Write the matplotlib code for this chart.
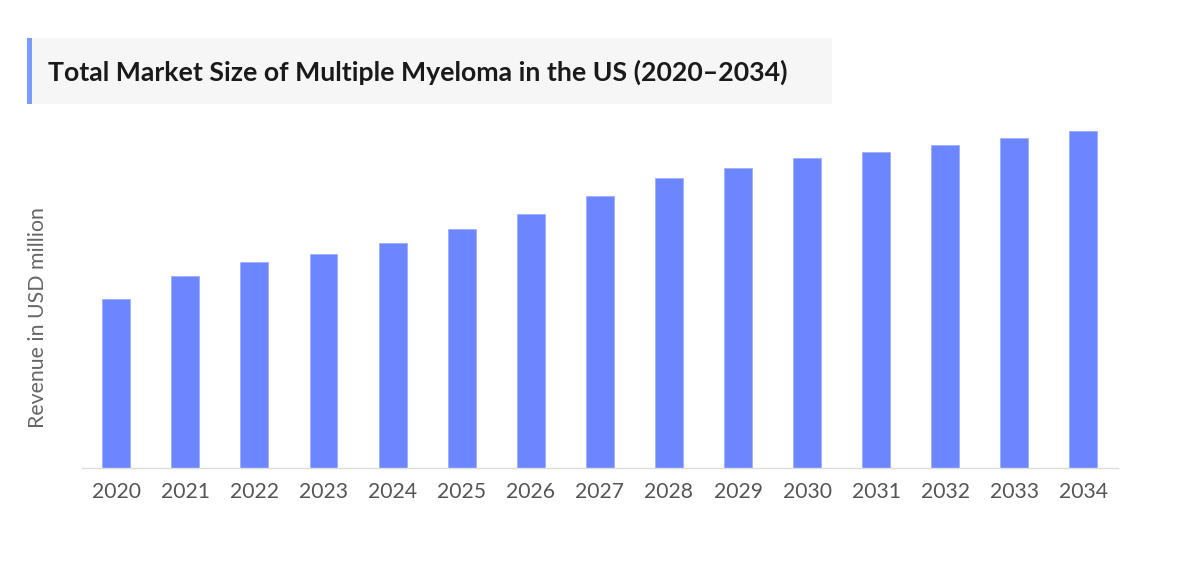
import matplotlib
matplotlib.use("Agg")
import matplotlib.pyplot as plt
from matplotlib.patches import Rectangle

years = ["2020", "2021", "2022", "2023", "2024", "2025", "2026", "2027",
         "2028", "2029", "2030", "2031", "2032", "2033", "2034"]
revenue = [169, 192, 206, 214, 225, 239, 254, 272, 290, 300, 310, 316, 323, 330, 337]

title = "Total Market Size of Multiple Myeloma in the US (2020\u20132034)"
ylabel = "Revenue in USD million"

W, H = 1201, 572
fig = plt.figure(figsize=(W / 100, H / 100), dpi=100)
fig.patch.set_facecolor("white")

# title box
fig.patches.append(Rectangle((27 / W, 1 - 104 / H), (832 - 27) / W, (104 - 38) / H,
                             transform=fig.transFigure, facecolor="#f6f6f6",
                             edgecolor="none", zorder=0))
fig.patches.append(Rectangle((27 / W, 1 - 104 / H), 5 / W, (104 - 38) / H,
                             transform=fig.transFigure, facecolor="#7b9bff",
                             edgecolor="none", zorder=1))
fig.text(48 / W, 1 - 72 / H, title, fontsize=19.2, fontweight="bold",
         family=["Lato", "DejaVu Sans"], color="#1a1a1a", va="center", ha="left")

ax = fig.add_axes([81.7 / W, 1 - 468 / H, (1118 - 81.7) / W, 348 / H])
x = list(range(len(years)))
ax.bar(x, revenue, width=0.405, color="#6b86ff", edgecolor="#9db0ff", linewidth=0.6)
ax.set_xlim(-0.5, len(years) - 0.5)
ax.set_ylim(0, 348)
ax.set_xticks(x)
ax.set_xticklabels(years, family=["Lato", "DejaVu Sans"], fontsize=15.2, color="#555555")
ax.tick_params(axis="x", length=0, pad=10)
ax.set_yticks([])
for s in ["top", "right", "left"]:
    ax.spines[s].set_visible(False)
ax.spines["bottom"].set_color("#dddddd")
ax.spines["bottom"].set_linewidth(1)

fig.text(38 / W, 1 - 318 / H, ylabel, rotation=90, fontsize=15.3,
         family=["Lato", "DejaVu Sans"], color="#666666", va="center", ha="center")

fig.savefig("out.png", dpi=100)
